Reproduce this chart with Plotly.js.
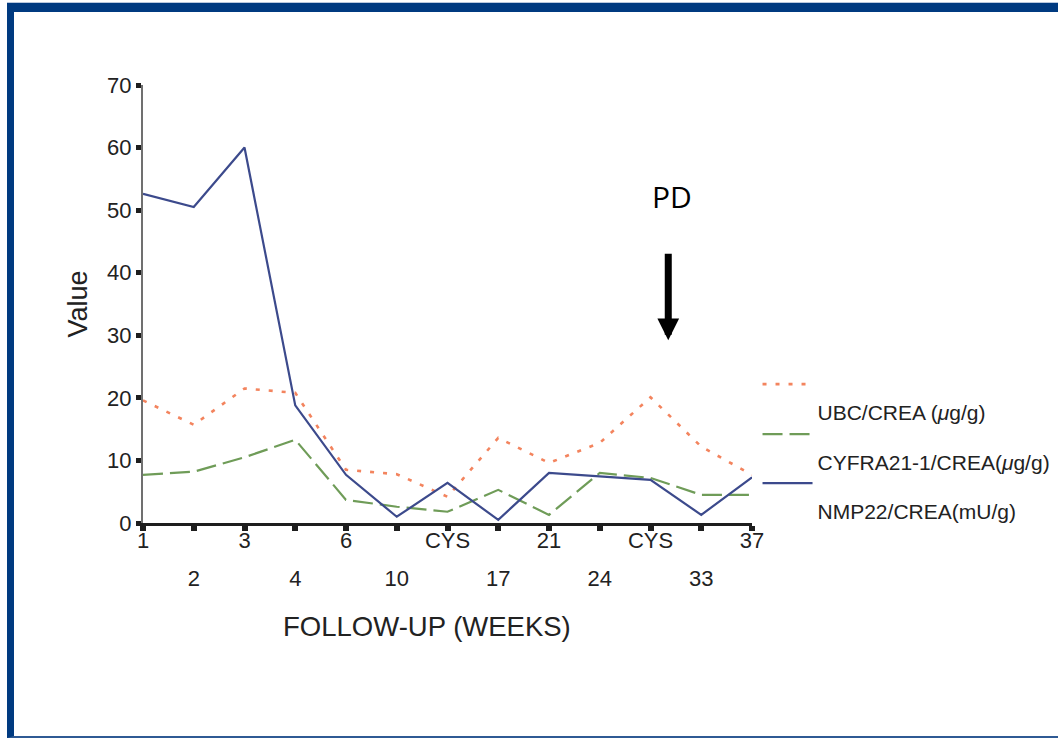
<!DOCTYPE html>
<html>
<head>
<meta charset="utf-8">
<script src="https://cdn.plot.ly/plotly-3.0.1.min.js"></script>
<style>
  html, body { margin: 0; padding: 0; background: #fff; }
  #wrap { position: relative; width: 1058px; height: 738px; overflow: hidden; }
  #chart { position: absolute; left: 0; top: 0; width: 1058px; height: 738px; }
  #frame {
    position: absolute; left: 7px; top: 3px; width: 1051px; height: 735px;
    box-sizing: border-box; pointer-events: none;
    border-top: 9px solid #003a80; border-left: 7px solid #003a80; border-bottom: 2px solid #2f5a94;
    box-shadow: 0 -1px 0 #b9c8de;
  }
</style>
</head>
<body>
<div id="wrap">
  <div id="chart"></div>
  <div id="frame"></div>
</div>
<script>
// ---- data ----
const categories = ['1', '2', '3', '4', '6', '10', 'CYS', '17', '21', '24', 'CYS', '33', '37'];
const ubcCrea    = [19.6, 15.7, 21.5, 20.8, 8.5, 7.8, 4.2, 13.6, 9.6, 12.8, 20.1, 12.2, 7.7];
const cyfraCrea  = [7.7, 8.2, 10.5, 13.3, 3.7, 2.6, 1.8, 5.3, 1.3, 8.0, 7.2, 4.5, 4.5];
const nmp22Crea  = [52.6, 50.5, 60.0, 18.8, 7.7, 1.0, 6.4, 0.5, 8.0, 7.5, 6.9, 1.3, 7.3];
const seriesNames = ['UBC/CREA (<i>μ</i>g/g)', 'CYFRA21-1/CREA(<i>μ</i>g/g)', 'NMP22/CREA(mU/g)'];
const yTicks = [0, 10, 20, 30, 40, 50, 60, 70];
const pdMark = { label: 'PD', pos: 10.35, textValue: 51.9, tipValue: 29.2 };

const pos = categories.map((c, i) => i);
const topRow = categories.map((c, i) => (i % 2 === 0 ? c : ''));
const bottomRow = categories.map((c, i) => (i % 2 === 1 ? c : ''));

const FONT = 'Liberation Sans, Arial, Helvetica, sans-serif';
const colors = ['#f3845e', '#6f9c58', '#3c4a8c'];

const traces = [
  { x: pos, y: ubcCrea, name: ' <br>' + seriesNames[0], mode: 'lines', legend: 'legend',
    line: { color: colors[0], width: 2.6, dash: '4px,9px' } },
  { x: pos, y: cyfraCrea, name: ' <br>' + seriesNames[1], mode: 'lines', legend: 'legend2',
    line: { color: colors[1], width: 2.2, dash: '20px,7px' } },
  { x: pos, y: nmp22Crea, name: ' <br>' + seriesNames[2], mode: 'lines', legend: 'legend3',
    xaxis: 'x2', line: { color: colors[2], width: 2.2 } }
];

const legendBase = {
  xref: 'container', yref: 'container', xanchor: 'left', yanchor: 'top',
  valign: 'top', itemwidth: 50, bgcolor: 'rgba(0,0,0,0)', borderwidth: 0,
  font: { family: FONT, size: 21, color: '#222' }, itemclick: false
};
const legendX = 0.716;

const layout = {
  width: 1058, height: 738,
  paper_bgcolor: '#fff', plot_bgcolor: '#fff',
  margin: { l: 143, r: 306, t: 85, b: 215 },
  showlegend: true,
  font: { family: FONT, size: 21, color: '#222' },
  xaxis: {
    type: 'linear', range: [0, 12], tickvals: pos, ticktext: topRow,
    showline: true, linecolor: '#1e1e1e', linewidth: 3, showgrid: false, zeroline: false,
    ticks: 'outside', ticklen: 5, tickwidth: 6, tickcolor: '#1e1e1e', ticklabelstandoff: -9,
    tickfont: { family: FONT, size: 22, color: '#222' }, fixedrange: true
  },
  xaxis2: {
    type: 'linear', range: [0, 12], overlaying: 'x', anchor: 'y', side: 'bottom',
    tickvals: pos, ticktext: bottomRow, showline: false, showgrid: false, zeroline: false,
    ticks: '', ticklabelstandoff: 40,
    tickfont: { family: FONT, size: 22, color: '#222' }, fixedrange: true
  },
  yaxis: {
    range: [0, 70], tickvals: yTicks, showline: true, linecolor: '#707070', linewidth: 2,
    showgrid: false, zeroline: false, ticks: 'outside', ticklen: 5, tickwidth: 5, tickcolor: '#1e1e1e',
    tickfont: { family: FONT, size: 22, color: '#222' },
    title: { text: 'Value', font: { family: FONT, size: 27, color: '#222' }, standoff: 12 },
    fixedrange: true
  },
  legend: Object.assign({}, legendBase, { x: legendX, y: 1 - 364 / 738 }),
  legend2: Object.assign({}, legendBase, { x: legendX, y: 1 - 414 / 738 }),
  legend3: Object.assign({}, legendBase, { x: legendX, y: 1 - 463 / 738 }),
  annotations: [
    { xref: 'paper', yref: 'paper', x: 0.466, y: -0.237, text: 'FOLLOW-UP (WEEKS)', showarrow: false,
      font: { family: FONT, size: 27.5, color: '#222' }, xanchor: 'center', yanchor: 'middle' },
    { xref: 'x', yref: 'y', x: pdMark.pos + 0.07, y: pdMark.textValue + 0.3, text: pdMark.label, showarrow: false,
      font: { family: 'Open Sans, Noto Sans, sans-serif', size: 30, color: '#000' } },
    { xref: 'x', yref: 'y', x: pdMark.pos, y: pdMark.tipValue, text: '', showarrow: true,
      ax: 0, ay: -88, arrowhead: 2, arrowwidth: 7, arrowsize: 0.62, arrowcolor: '#000', standoff: 0 }
  ]
};

Plotly.newPlot('chart', traces, layout, { displayModeBar: false, staticPlot: true });
</script>
</body>
</html>
